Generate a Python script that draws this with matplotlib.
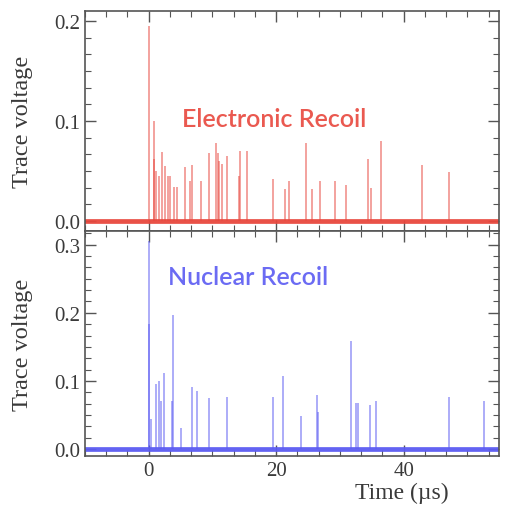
import numpy as np
import matplotlib.pyplot as plt
from matplotlib.ticker import MultipleLocator

# electronic recoil trace: spike times (us) and heights (V)
er_t = [0.0, 0.8, 0.9, 1.1, 2.1, 1.6, 2.6, 3.0, 3.4, 4.0, 4.5, 5.65, 6.5, 6.75,
        8.2, 9.4, 10.5, 10.9, 11.1, 11.5, 12.3, 14.2, 14.4, 15.4, 19.5, 21.4,
        22.0, 24.7, 25.6, 26.9, 29.3, 30.9, 34.4, 34.9, 36.4, 42.9, 47.1]
er_v = [0.195, 0.100, 0.062, 0.050, 0.069, 0.045, 0.055, 0.045, 0.045, 0.034,
        0.034, 0.054, 0.040, 0.056, 0.040, 0.068, 0.078, 0.068, 0.060, 0.057,
        0.065, 0.045, 0.070, 0.070, 0.042, 0.032, 0.040, 0.078, 0.032, 0.040,
        0.040, 0.036, 0.062, 0.033, 0.080, 0.056, 0.049]

# nuclear recoil trace
nr_t = [0.0, 0.05, 0.4, 1.2, 1.6, 2.0, 2.35, 3.7, 3.8, 5.1, 6.8, 7.6, 9.5, 12.3,
        19.5, 21.1, 23.9, 26.4, 26.6, 31.8, 32.5, 32.9, 34.8, 35.6, 47.1, 52.6]
nr_v = [0.305, 0.184, 0.044, 0.095, 0.100, 0.070, 0.112, 0.070, 0.197, 0.031,
        0.091, 0.085, 0.075, 0.077, 0.077, 0.108, 0.049, 0.079, 0.055, 0.158,
        0.068, 0.068, 0.065, 0.070, 0.077, 0.070]

red = '#e8473d'
blue = '#5b5bf2'
edge = '#555555'

plt.rcParams['font.family'] = ['Liberation Serif', 'DejaVu Serif']

fig = plt.figure(figsize=(5.1, 5.06), dpi=100)
ax1 = fig.add_axes([0.1667, 0.5415, 0.812, 0.4348])
ax2 = fig.add_axes([0.1667, 0.0968, 0.812, 0.4447], sharex=ax1)


def style(ax):
    ax.set_xlim(-10, 55)
    ax.xaxis.set_major_locator(MultipleLocator(20))
    ax.xaxis.set_minor_locator(MultipleLocator(20 / 6))
    ax.yaxis.set_major_locator(MultipleLocator(0.1))
    ax.yaxis.set_minor_locator(MultipleLocator(0.1 / 6))
    ax.tick_params(which='both', direction='in', top=True, right=True,
                   color=edge, labelcolor='#3a3a3a', labelsize=15)
    ax.tick_params(which='major', length=8, width=1)
    ax.tick_params(which='minor', length=4, width=0.8)
    for s in ax.spines.values():
        s.set_color(edge)
        s.set_linewidth(1.2)
    ax.set_ylabel('Trace voltage', fontsize=17.5, color='#3a3a3a')
    ax.yaxis.set_label_coords(-0.125, 0.5)
    ax.yaxis.set_major_formatter(plt.FuncFormatter(lambda v, p: f'{v:.1f}'))


ax1.vlines(er_t, 0, er_v, color=red, lw=1.4, alpha=0.5)
ax1.axhline(0, color=red, lw=3.4, alpha=0.95)
ax1.set_ylim(-0.01, 0.21)
style(ax1)
ax1.tick_params(labelbottom=False)
ax1.text(5.3, 0.102, 'Electronic Recoil', color=red, fontsize=18,
         family='Lato', weight='semibold', va='center', alpha=0.9)

ax2.vlines(nr_t, 0, nr_v, color=blue, lw=1.4, alpha=0.5)
ax2.axhline(0, color=blue, lw=3.4, alpha=0.95)
ax2.set_ylim(-0.01, 0.32)
style(ax2)
ax2.text(3.1, 0.254, 'Nuclear Recoil', color=blue, fontsize=18,
         family='Lato', weight='semibold', va='center', alpha=0.9)
ax2.set_xlabel('Time (\u00b5s)', fontsize=17, color='#3a3a3a')
ax2.xaxis.set_label_coords(0.765, -0.115)

fig.savefig('out.png', dpi=100)
